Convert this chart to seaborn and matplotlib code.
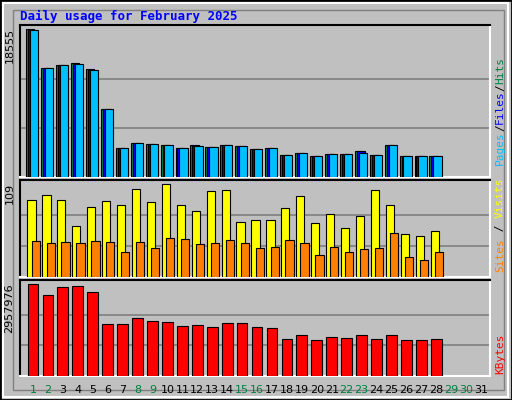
import matplotlib
matplotlib.use("Agg")
import matplotlib.pyplot as plt
import seaborn as sns
import numpy as np
import pandas as pd

sns.set_style("white")
plt.rcParams['font.family'] = ['DejaVu Sans Mono', 'DejaVu Sans']

days = list(range(1, 32))
day_labels = [str(d) for d in days]
weekend_days = [1, 2, 8, 9, 15, 16, 22, 23, 29, 30]
data_days = list(range(1, 29))

pages = [18430, 13640, 14020, 14150, 13390, 8600, 3690, 4320, 4200, 4070, 3690, 3860, 3820, 4070, 3940,
         3570, 3690, 2810, 3060, 2690, 2940, 2940, 3060, 2810, 4070, 2690, 2690, 2690]
files = [18430, 13640, 14020, 14200, 13420, 8600, 3690, 4320, 4200, 4070, 3690, 3950, 3820, 4070, 3940,
         3570, 3690, 2810, 3060, 2690, 2940, 2940, 3250, 2810, 4070, 2690, 2690, 2690]
hits = [18555, 13640, 14020, 14270, 13520, 8600, 3690, 4320, 4200, 4070, 3690, 4070, 3820, 4070, 3940,
        3570, 3690, 2810, 3060, 2690, 2940, 2940, 3320, 2810, 4070, 2690, 2690, 2690]
visits = [90, 96, 90, 60, 82, 89, 84, 103, 88, 109, 84, 77, 101, 102, 65,
          67, 67, 81, 95, 63, 74, 57, 71, 102, 84, 50, 48, 54]
sites = [42, 40, 41, 40, 42, 41, 29, 41, 34, 46, 44, 39, 40, 43, 40,
         34, 35, 43, 40, 26, 35, 29, 33, 34, 52, 23, 20, 29]
kbytes = [2957976, 2602000, 2860000, 2892000, 2698000, 1693000, 1693000, 1855000, 1790000, 1758000,
          1628000, 1660000, 1596000, 1725000, 1725000, 1596000, 1563000, 1208000, 1338000, 1176000,
          1273000, 1241000, 1338000, 1208000, 1338000, 1176000, 1176000, 1208000]

BG = "#C0C0C0"
fig = plt.figure(figsize=(5.12, 4.0), dpi=100, facecolor=BG)
fig.patches.append(plt.Rectangle((0, 0), 1, 1, transform=fig.transFigure, fill=False,
                                 edgecolor="black", linewidth=2))
fig.patches.append(plt.Rectangle((0.006, 0.008), 0.986, 0.985, transform=fig.transFigure, fill=False,
                                 edgecolor="white", linewidth=1.5))
fig.patches.append(plt.Rectangle((0.025, 0.025), 0.96, 0.95, transform=fig.transFigure, fill=False,
                                 edgecolor="#808080", linewidth=1))

L, W = 20/512, 470/512
ax1 = fig.add_axes([L, 1-177/400, W, 152/400])
ax2 = fig.add_axes([L, 1-277/400, W, 97/400])
ax3 = fig.add_axes([L, 1-376/400, W, 96/400])

x = np.array(data_days, dtype=float)
ax1.bar(x - 0.18, hits, width=0.55, color="#008040", edgecolor="black", linewidth=0.8, zorder=3)
ax1.bar(x - 0.05, files, width=0.55, color="#0000FF", edgecolor="black", linewidth=0.8, zorder=4)
ax1.bar(x + 0.08, pages, width=0.55, color="#00BFFF", edgecolor="black", linewidth=0.8, zorder=5)
ax1.set_ylim(0, 18555 * 151.7 / 147.4)
ax2.bar(x - 0.1, visits, width=0.55, color="#FFFF00", edgecolor="black", linewidth=0.8, zorder=3)
ax2.bar(x + 0.18, sites, width=0.55, color="#FF8000", edgecolor="black", linewidth=0.8, zorder=4)
ax2.set_ylim(0, 109 * 97 / 93)
df = pd.DataFrame({"day": x, "kbytes": kbytes})
sns.barplot(data=df, x="day", y="kbytes", native_scale=True, width=0.72, color="#FF0000",
            saturation=1, edgecolor="black", linewidth=0.8, ax=ax3, zorder=3)
ax3.set_ylim(0, 2957976 * 96 / 91.7)

maxes = [18555, 109, 2957976]
for ax, m in zip([ax1, ax2, ax3], maxes):
    ax.set_facecolor(BG)
    ax.set_xlim(0.13, 31.6)
    for f in (1/3, 2/3):
        ax.axhline(m * f, color="#808080", linewidth=1.2, zorder=1)
    ax.set_xticks([])
    ax.set_yticks([])
    ax.set_xlabel("")
    ax.set_ylabel("")
    for side, col in [('left', 'black'), ('top', 'black'), ('right', 'white'), ('bottom', 'white')]:
        ax.spines[side].set_visible(True)
        ax.spines[side].set_color(col)
        ax.spines[side].set_linewidth(1.5)
    ax.text(-0.012, 1 - 3/ax.bbox.height, str(m), transform=ax.transAxes, rotation=90,
            ha="right", va="top", fontsize=8, color="black", family="DejaVu Sans")

fig.text(20/512, 1-16/400, "Daily usage for February 2025", color="#0000FF",
         fontsize=9, fontweight="bold", ha="left", va="center")

for d in days:
    xf = L + W * (d - 0.13) / (31.6 - 0.13)
    fig.text(xf, 1-390/400, str(d), ha="center", va="center", fontsize=8,
             color="#008040" if d in weekend_days else "black", family="DejaVu Sans")

fig.canvas.draw()
renderer = fig.canvas.get_renderer()

def vlabel(parts, ybottom):
    y = 1 - ybottom/400
    for txt, col in parts:
        t = fig.text(500/512, y, txt, rotation=90, color=col, fontsize=8, ha="center", va="bottom")
        ext = t.get_window_extent(renderer)
        y = ext.y1 / fig.bbox.height

vlabel([("Pages", "#00BFFF"), ("/", "black"), ("Files", "#0000FF"), ("/", "black"), ("Hits", "#008040")], 165)
vlabel([("Sites", "#FF8000"), (" / ", "black"), ("Visits", "#FFFF00")], 272)
vlabel([("KBytes", "#FF0000")], 374)

fig.savefig("out.png", dpi=100, facecolor=BG)
